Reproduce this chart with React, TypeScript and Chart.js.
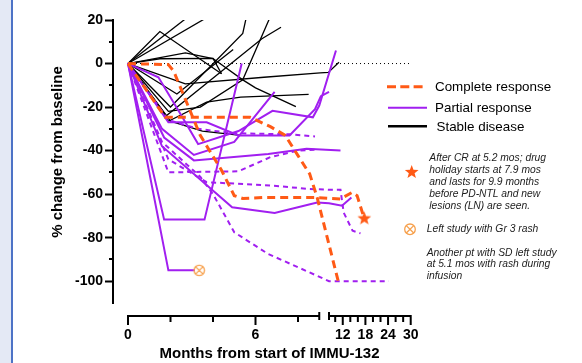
import React, { useEffect, useRef } from 'react';
import { Chart, registerables, LinearScale } from 'chart.js';

type Pt = [number, number];

// ---------- data: [months from start, % change from baseline] ----------
// Complete response (orange dashed)
const crHoliday: Pt[] = [[0, 0], [1.9, -0.5], [2.15, -3.5], [3.4, -33], [4.4, -49], [5.0, -60.7], [5.4, -62], [6.5, -61.5], [8.8, -61.5], [11.4, -62.2], [14.5, -59.2], [15.8, -60.7], [17.6, -70.7]];
const crDeep: Pt[] = [[0, 0], [1.75, -24.7], [5.75, -24.7], [6.7, -29], [7.4, -33], [8.0, -42.3], [8.55, -50.7], [8.9, -61.5], [10.8, -100], [11.5, -100]];

// Partial response (purple solid)
const pr1: Pt[] = [[0, 0], [1.7, -71.7], [3.6, -71.7], [5.35, 0]];
const pr2: Pt[] = [[0, 0], [1.9, -95], [3.15, -95]];
const pr3: Pt[] = [[0, 0], [1.6, -38], [4.9, -66], [6.9, -68.6], [8.9, -63.8], [9.3, -64.2], [11.8, -65.3], [14.3, -61.5]];
const pr4: Pt[] = [[0, 0], [1.7, -34], [3.1, -44.5], [6.6, -41.5], [8.4, -39.2], [11.4, -40]];
const pr5: Pt[] = [[0, 0], [1.6, -30], [3.1, -42], [5.0, -36], [6.9, -13]];
const pr6: Pt[] = [[0, 0], [1.9, -27], [3.7, -27], [5.2, -33], [7.6, -33], [8.8, -21], [9.05, -15], [9.3, -13]];
const pr7: Pt[] = [[0, 0], [1.43, -6.3], [2.4, -22], [3.3, -37], [5.2, -31], [6.8, -21.7], [8.7, -24.7], [9.0, -19.3], [10.2, 6]];

// Partial response (purple dashed)
const prd1: Pt[] = [[0, 0], [1.6, -36], [3.4, -52], [4.0, -60], [5.0, -77.5], [6.6, -87.5], [8.9, -97.5], [9.3, -100], [24.2, -100]];
const prd2: Pt[] = [[0, 0], [1.9, -44], [3.7, -54.5], [6.7, -56], [8.5, -57.6], [9.3, -58], [11.4, -58], [12.25, -68.5], [14.6, -76.8], [16.7, -78]];
const prd3: Pt[] = [[0, 0], [1.9, -50], [5.2, -49.5], [6.7, -43], [8.0, -40], [8.9, -39.5]];
const prd4: Pt[] = [[0, 0], [1.9, -26], [3.3, -30], [4.9, -32], [7.6, -32.5], [8.8, -33.5]];

// Stable disease (black)
const sd1: Pt[] = [[0, 0], [1.5, 14.7], [4.4, -4.7]];
const sd2: Pt[] = [[0, 0], [2.7, 20.5]];
const sd3: Pt[] = [[0, 0], [3.6, 20.5]];
const sd4: Pt[] = [[0, 0], [2.7, 4.9], [4.0, 2.3], [5.4, -7.5], [6.0, -11.2], [7.9, -19.8]];
const sd5: Pt[] = [[0, 0], [1.5, 2.2], [4.0, 2.4], [4.4, -4.7]];
const sd6: Pt[] = [[0, 0], [2.0, -20], [5.4, 13.8], [5.55, 20.5]];
const sd7: Pt[] = [[0, 0], [1.9, -22], [3.4, -20], [5.4, -7.5], [6.65, 20.5]];
const sd8: Pt[] = [[0, 0], [1.8, -24], [6.3, 11.4], [7.2, 16.7]];
const sd9: Pt[] = [[0, 0], [2.0, -26.5], [3.5, -31], [5.3, -33]];
const sd10: Pt[] = [[0, 0], [1.9, -26.5], [3.7, -17.7], [5.3, -15.4], [8.5, -14.2]];
const sd11: Pt[] = [[0, 0], [2.7, -9.3], [6.4, -6.3], [9.03, -4.3], [9.28, -4.1], [11.0, 0.6]];
const sd12: Pt[] = [[0, 0], [2.3, -14], [4.95, 6.4]];

const zeroRef: Pt[] = [[0, 0], [30.3, 0]];
const starPoint: Pt[] = [[17.7, -71]];
const rashPoint: Pt[] = [[3.35, -95]];

// ---------- axes ----------
const Y_TICKS = [20, 0, -20, -40, -60, -80, -100];
const Y_MINOR = [10, -10, -30, -50, -70, -90];
const X_MAJOR = [0, 6, 12, 18, 24, 30];
const X_LABELS = ['0', '6', '12', '18', '24', '30'];
const X_MINOR = [2, 4, 8, 10, 14, 16, 20, 22, 26, 28];
const X_BREAK_AT = [9, 9.3];

// broken x-axis: months -> relative axis units (piecewise linear)
const X_WARP: Pt[] = [[0, 0], [9, 191.25], [9.3, 201], [10, 207.2], [30, 282.7]];
const X_MIN = -0.706;
const X_MAX = 34.05;

function warp(m: number) {
  const b = X_WARP;
  for (let i = 1; i < b.length; i++) {
    if (m <= b[i][0] || i === b.length - 1) {
      const [m0, u0] = b[i - 1];
      const [m1, u1] = b[i];
      return u0 + ((m - m0) * (u1 - u0)) / (m1 - m0);
    }
  }
  return 0;
}
function unwarp(u: number) {
  const b = X_WARP;
  for (let i = 1; i < b.length; i++) {
    if (u <= b[i][1] || i === b.length - 1) {
      const [m0, u0] = b[i - 1];
      const [m1, u1] = b[i];
      return m0 + ((u - u0) * (m1 - m0)) / (u1 - u0);
    }
  }
  return 0;
}

class BrokenScale extends LinearScale {
  static id = 'broken';
  getPixelForValue(value: any) {
    if (value === null || value === undefined || isNaN(value)) return NaN;
    const a = warp(X_MIN);
    const b = warp(X_MAX);
    return this.getPixelForDecimal((warp(value) - a) / (b - a));
  }
  getValueForPixel(pixel: number) {
    const a = warp(X_MIN);
    const b = warp(X_MAX);
    return unwarp(a + this.getDecimalForPixel(pixel) * (b - a));
  }
}

Chart.register(...registerables, BrokenScale as any);

const FONT = '"Liberation Sans", Arial, Helvetica, sans-serif';
const ORANGE = '#ff5a16';
const PURPLE = '#a11ff0';
const BLACK = '#000000';
const LIGHT_ORANGE = '#f7a04c';

function makeStar(r: number, color: string) {
  const c = document.createElement('canvas');
  const s = Math.ceil(r * 2 + 2);
  c.width = s;
  c.height = s;
  const g = c.getContext('2d')!;
  g.fillStyle = color;
  g.beginPath();
  for (let i = 0; i < 10; i++) {
    const rad = i % 2 === 0 ? r : r * 0.42;
    const ang = -Math.PI / 2 + (i * Math.PI) / 5;
    const x = s / 2 + rad * Math.cos(ang);
    const y = s / 2 + 0.5 + rad * Math.sin(ang);
    if (i === 0) g.moveTo(x, y);
    else g.lineTo(x, y);
  }
  g.closePath();
  g.fill();
  return c;
}

function makeRash(r: number, color: string) {
  const c = document.createElement('canvas');
  const s = Math.ceil(r * 2 + 4);
  c.width = s;
  c.height = s;
  const g = c.getContext('2d')!;
  g.strokeStyle = color;
  g.lineWidth = 1.3;
  g.beginPath();
  g.arc(s / 2, s / 2, r, 0, Math.PI * 2);
  const d = r * 0.7;
  g.moveTo(s / 2 - d, s / 2 - d);
  g.lineTo(s / 2 + d, s / 2 + d);
  g.moveTo(s / 2 + d, s / 2 - d);
  g.lineTo(s / 2 - d, s / 2 + d);
  g.stroke();
  return c;
}

const toXY = (arr: Pt[]) => arr.map(([x, y]) => ({ x, y }));
const series = (arr: Pt[], color: string, width: number, dash: number[] = []) => ({
  data: toXY(arr),
  borderColor: color,
  backgroundColor: color,
  borderWidth: width,
  borderDash: dash,
  pointRadius: 0,
  tension: 0,
  fill: false,
});

const axisPlugin = {
  id: 'brokenAxis',
  afterDraw(chart: any) {
    const { ctx, chartArea: a, scales } = chart;
    const x = scales.x;
    const y = scales.y;
    const P = (m: number) => x.getPixelForValue(m);
    const y0 = Math.round(a.bottom + 13);
    ctx.save();
    ctx.strokeStyle = '#000';
    ctx.lineWidth = 2;
    ctx.beginPath();
    ctx.moveTo(P(0) - 1, y0);
    ctx.lineTo(P(X_BREAK_AT[0]), y0);
    ctx.moveTo(P(X_BREAK_AT[1]), y0);
    ctx.lineTo(P(30) + 1, y0);
    X_MAJOR.forEach((m) => {
      ctx.moveTo(P(m), y0);
      ctx.lineTo(P(m), y0 + 9);
    });
    X_MINOR.forEach((m) => {
      ctx.moveTo(P(m), y0);
      ctx.lineTo(P(m), y0 + 6);
    });
    X_BREAK_AT.forEach((m) => {
      ctx.moveTo(P(m), y0 - 4);
      ctx.lineTo(P(m), y0 + 4);
    });
    Y_MINOR.forEach((v) => {
      const py = Math.round(y.getPixelForValue(v));
      ctx.moveTo(a.left - 4, py);
      ctx.lineTo(a.left, py);
    });
    ctx.stroke();
    ctx.restore();
  },
};

function starPath(cx: number, cy: number, r: number) {
  const pts: string[] = [];
  for (let i = 0; i < 10; i++) {
    const rad = i % 2 === 0 ? r : r * 0.42;
    const ang = -Math.PI / 2 + (i * Math.PI) / 5;
    pts.push(`${(cx + rad * Math.cos(ang)).toFixed(2)},${(cy + rad * Math.sin(ang)).toFixed(2)}`);
  }
  return pts.join(' ');
}

const Txt = ({ x, y, size, children, italic, lh }: any) => (
  <div
    style={{
      position: 'absolute',
      left: x,
      top: y,
      fontSize: size,
      lineHeight: `${lh || size * 1.15}px`,
      fontStyle: italic ? 'italic' : 'normal',
      color: italic ? '#1c1c1c' : '#000',
      whiteSpace: 'pre',
      fontFamily: FONT,
    }}
  >
    {children}
  </div>
);

export default function App() {
  const ref = useRef<HTMLCanvasElement>(null);

  useEffect(() => {
    Chart.defaults.font.family = FONT;
    const star = makeStar(7.2, ORANGE);
    const rash = makeRash(5.2, LIGHT_ORANGE);
    const chart = new Chart(ref.current as HTMLCanvasElement, {
      type: 'line',
      data: {
        datasets: [
          { data: toXY(starPoint), showLine: false, pointStyle: star, pointRadius: 7 } as any,
          { data: toXY(rashPoint), showLine: false, pointStyle: rash, pointRadius: 6 } as any,
          series(crHoliday, ORANGE, 3, [8, 5]),
          series(crDeep, ORANGE, 3, [8, 5]),
          series(pr1, PURPLE, 2),
          series(pr2, PURPLE, 2),
          series(pr3, PURPLE, 2),
          series(pr4, PURPLE, 2),
          series(pr5, PURPLE, 2),
          series(pr6, PURPLE, 2),
          series(pr7, PURPLE, 2),
          series(prd1, PURPLE, 2, [5, 4]),
          series(prd2, PURPLE, 2, [5, 4]),
          series(prd3, PURPLE, 2, [5, 4]),
          series(prd4, PURPLE, 2, [5, 4]),
          series(sd1, BLACK, 1.3),
          series(sd2, BLACK, 1.3),
          series(sd3, BLACK, 1.3),
          series(sd4, BLACK, 1.3),
          series(sd5, BLACK, 1.3),
          series(sd6, BLACK, 1.3),
          series(sd7, BLACK, 1.3),
          series(sd8, BLACK, 1.3),
          series(sd9, BLACK, 1.3),
          series(sd10, BLACK, 1.3),
          series(sd11, BLACK, 1.3),
          series(sd12, BLACK, 1.3),
          series(zeroRef, BLACK, 1, [1, 3]),
        ],
      },
      options: {
        animation: false,
        responsive: false,
        devicePixelRatio: 1,
        events: [],
        layout: { padding: { left: 0, right: 156, top: 20, bottom: 0 } },
        plugins: { legend: { display: false }, tooltip: { enabled: false } },
        scales: {
          x: {
            type: 'broken' as any,
            min: X_MIN,
            max: X_MAX,
            afterFit: (s: any) => {
              s.height = 60;
            },
            afterBuildTicks: (s: any) => {
              s.ticks = X_MAJOR.map((v) => ({ value: v }));
            },
            border: { display: false },
            grid: { display: false, drawTicks: true, tickLength: 20 },
            ticks: {
              autoSkip: false,
              maxRotation: 0,
              padding: 4,
              color: '#000',
              font: { size: 14, weight: 'bold' },
              callback: (v: any) => {
                const i = X_MAJOR.indexOf(Number(v));
                return i >= 0 ? X_LABELS[i] : '';
              },
            },
            title: {
              display: true,
              text: 'Months from start of IMMU-132',
              color: '#000',
              font: { size: 15, weight: 'bold' },
              padding: { top: 0, bottom: 0 },
            },
          } as any,
          y: {
            min: -110,
            max: 20,
            afterFit: (s: any) => {
              s.width = 113;
            },
            afterBuildTicks: (s: any) => {
              s.ticks = Y_TICKS.map((v) => ({ value: v }));
            },
            border: { display: true, color: '#000', width: 2 },
            grid: { display: true, drawOnChartArea: false, drawTicks: true, tickLength: 8, tickWidth: 2, tickColor: '#000', color: '#000' },
            ticks: {
              autoSkip: false,
              padding: 2,
              color: '#000',
              font: { size: 14, weight: 'bold' },
              callback: (v: any) => String(v),
            },
          },
        },
      },
      plugins: [axisPlugin],
    } as any);
    return () => chart.destroy();
  }, []);

  return (
    <div style={{ position: 'absolute', left: 0, top: 0, width: 582, height: 363, background: '#fff', overflow: 'hidden', fontFamily: FONT }}>
      <div style={{ position: 'absolute', left: 0, top: 0, width: 11, height: 363, background: '#e4e9f5' }} />
      <div style={{ position: 'absolute', left: 11, top: 0, width: 1.5, height: 363, background: '#4d73c6' }} />
      <canvas ref={ref} width={582} height={363} style={{ position: 'absolute', left: 0, top: 0, display: 'block' }} />
      <svg width={582} height={363} style={{ position: 'absolute', left: 0, top: 0, pointerEvents: 'none' }}>
        <line x1={387} y1={86.7} x2={424} y2={86.7} stroke={ORANGE} strokeWidth={3} strokeDasharray="9 4.3" />
        <line x1={388} y1={107.7} x2={427} y2={107.7} stroke={PURPLE} strokeWidth={2} />
        <line x1={388} y1={126.3} x2={427} y2={126.3} stroke={BLACK} strokeWidth={2.5} />
        <polygon points={starPath(411.7, 172.2, 7.2)} fill={ORANGE} />
        <circle cx={410} cy={229.3} r={5.3} fill="none" stroke={LIGHT_ORANGE} strokeWidth={1.3} />
        <line x1={406.3} y1={225.6} x2={413.7} y2={233} stroke={LIGHT_ORANGE} strokeWidth={1.3} />
        <line x1={413.7} y1={225.6} x2={406.3} y2={233} stroke={LIGHT_ORANGE} strokeWidth={1.3} />
      </svg>
      <div
        style={{
          position: 'absolute',
          left: 56,
          top: 151.7,
          transform: 'translate(-50%, -50%) rotate(-90deg)',
          fontSize: 15,
          fontWeight: 'bold',
          lineHeight: '15px',
          whiteSpace: 'nowrap',
          color: '#000',
          fontFamily: FONT,
        }}
      >
        % change from baseline
      </div>
      <Txt x={435} y={86.7 - 8} size={13.4} lh={16}>Complete response</Txt>
      <Txt x={435} y={108 - 8} size={13.4} lh={16}>Partial response</Txt>
      <Txt x={436.5} y={126.5 - 8} size={13.4} lh={16}>Stable disease</Txt>
      <Txt x={429.3} y={152.35} size={10.3} lh={11.9} italic>
        {'After CR at 5.2 mos; drug\nholiday starts at 7.9 mos\nand lasts for 9.9 months\nbefore PD-NTL and new\nlesions (LN) are seen.'}
      </Txt>
      <Txt x={426.7} y={229.3 - 6} size={10.3} lh={12} italic>Left study with Gr 3 rash</Txt>
      <Txt x={426.7} y={246.95} size={10.3} lh={11.5} italic>
        {'Another pt with SD left study\nat 5.1 mos with rash during\ninfusion'}
      </Txt>
    </div>
  );
}
